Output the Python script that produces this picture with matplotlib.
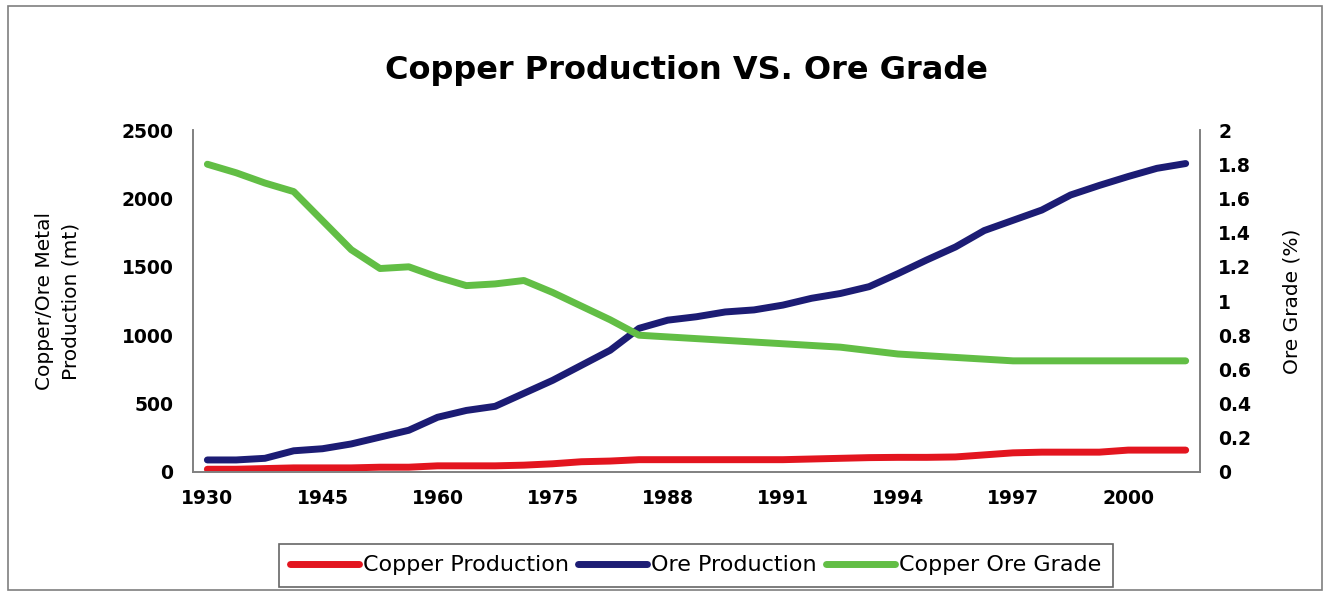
import matplotlib

matplotlib.use('Agg')
import matplotlib.pyplot as plt
from matplotlib.patches import Rectangle

plt.rcParams['font.family'] = ['DejaVu Sans']

# 35 categories on the x axis, labelled every 4th one
tick_labels = ['1930', '1945', '1960', '1975', '1988', '1991', '1994', '1997', '2000']
label_step = 4

copper_production = [20, 20, 25, 30, 30, 30, 35, 35, 45, 45, 45, 50, 60, 75, 80,
                     90, 90, 90, 90, 90, 90, 95, 100, 105, 107, 107, 110, 125, 140,
                     145, 145, 145, 160, 160, 160]
ore_production = [88, 88, 100, 155, 170, 205, 255, 305, 400, 450, 480, 575, 670, 780, 890,
                  1050, 1110, 1135, 1170, 1185, 1220, 1270, 1305, 1355, 1450, 1550, 1645,
                  1765, 1840, 1915, 2025, 2095, 2160, 2220, 2255]
ore_grade = [1.80, 1.75, 1.69, 1.64, 1.47, 1.30, 1.19, 1.20, 1.14, 1.09, 1.10, 1.12, 1.05,
             0.97, 0.89, 0.80, 0.79, 0.78, 0.77, 0.76, 0.75, 0.74, 0.73, 0.71, 0.69, 0.68,
             0.67, 0.66, 0.65, 0.65, 0.65, 0.65, 0.65, 0.65, 0.65]

RED = '#e3151f'
BLUE = '#1c1c74'
GREEN = '#62be45'
SPINE = '#808080'

fig = plt.figure(figsize=(13.3, 5.97), dpi=100)
fig.patches.append(Rectangle((0.006, 0.012), 0.988, 0.978, transform=fig.transFigure,
                             fill=False, edgecolor='#7f7f7f', linewidth=1.2))

ax = fig.add_axes([0.1451, 0.2094, 0.7572, 0.5728])
ax2 = ax.twinx()

x = list(range(len(ore_production)))
l1, = ax.plot(x, copper_production, color=RED, lw=5, solid_capstyle='round',
              solid_joinstyle='round', label='Copper Production')
l2, = ax.plot(x, ore_production, color=BLUE, lw=5, solid_capstyle='round',
              solid_joinstyle='round', label='Ore Production')
l3, = ax2.plot(x, ore_grade, color=GREEN, lw=5, solid_capstyle='round',
               solid_joinstyle='round', label='Copper Ore Grade')

ax.set_xlim(-0.5, len(x) - 0.5)
ax.set_ylim(0, 2500)
ax2.set_ylim(0, 2)

ax.set_xticks(x[::label_step])
ax.set_xticklabels(tick_labels, fontsize=13.5, fontweight='bold')
ax.set_yticks(range(0, 2501, 500))
ax.set_yticklabels([str(v) for v in range(0, 2501, 500)], fontsize=13.5, fontweight='bold')
grade_ticks = [i / 5 for i in range(11)]
ax2.set_yticks(grade_ticks)
ax2.set_yticklabels(['%g' % v for v in grade_ticks], fontsize=13.5, fontweight='bold')

ax.tick_params(axis='y', length=0, pad=14)
ax.tick_params(axis='x', length=0, pad=12)
ax2.tick_params(axis='y', length=0, pad=13)

for a in (ax, ax2):
    a.spines['top'].set_visible(False)
    for s in ('left', 'right', 'bottom'):
        a.spines[s].set_color(SPINE)
        a.spines[s].set_linewidth(1.2)

ax.set_ylabel('Copper/Ore Metal\nProduction (mt)', fontsize=14.5, linespacing=1.45)
ax.yaxis.set_label_coords(-0.112, 0.5)
ax2.set_ylabel('Ore Grade (%)', fontsize=14.5)
ax2.yaxis.set_label_coords(1.082, 0.5)

fig.text(0.516, 0.882, 'Copper Production VS. Ore Grade', ha='center', va='center',
         fontsize=23, fontweight='bold')

leg = fig.legend(handles=[l1, l2, l3], loc='center', bbox_to_anchor=(0.523, 0.0528),
                 ncol=3, fontsize=16, frameon=True, fancybox=False, handlelength=3.1,
                 handletextpad=0.2, columnspacing=0.4, borderpad=0.5)
leg.get_frame().set_edgecolor('#404040')
leg.get_frame().set_linewidth(1.2)

fig.savefig('out.png', dpi=100, facecolor='white')
